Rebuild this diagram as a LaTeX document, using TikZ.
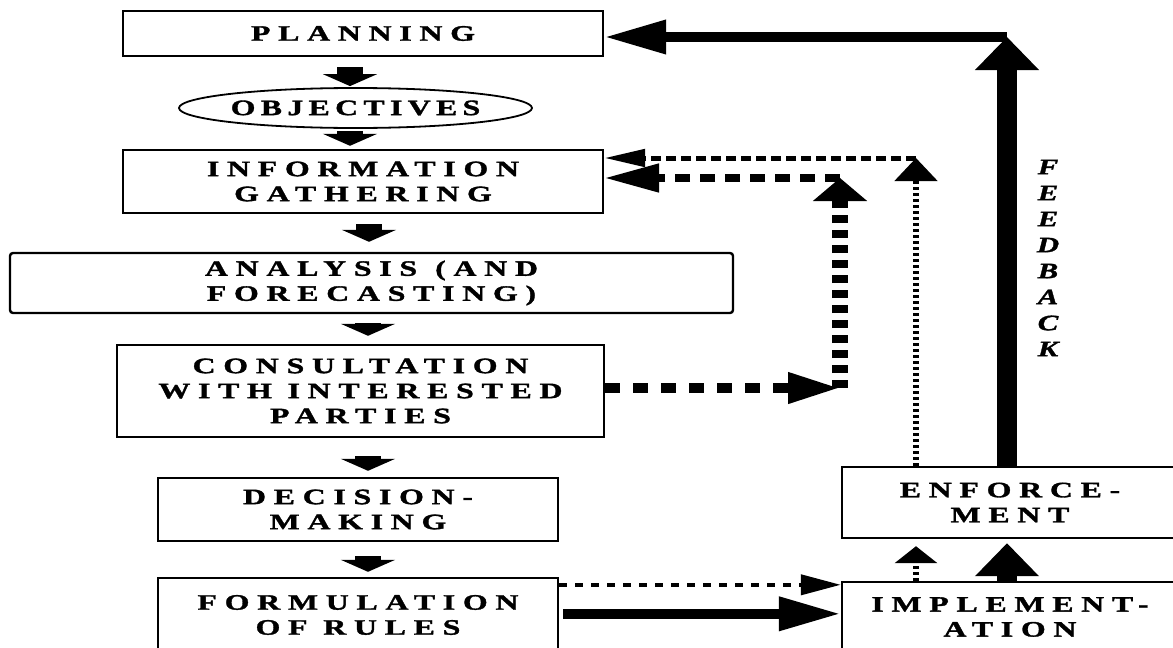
\documentclass[tikz,border=0pt]{standalone}
\usepackage{fontspec}
\setmainfont{Liberation Serif}
\newfontfamily\boxfont{Liberation Serif Bold}[FakeStretch=1.45,LetterSpace=35,FakeBold=1.5]
\newfontfamily\ovalfont{Liberation Serif Bold}[FakeStretch=1.45,LetterSpace=24,FakeBold=1.5]
\newfontfamily\fbfont{Liberation Serif Bold Italic}[FakeStretch=1.4,FakeBold=1.5]
\usetikzlibrary{shapes.geometric,arrows.meta}

\begin{document}
\begin{tikzpicture}[x=0.5pt,y=-0.5pt,
		stage/.style={draw,line width=1.2pt,align=center,inner sep=0pt,font=\boxfont\fontsize{11pt}{12.5pt}\selectfont},
		oval/.style={draw,ellipse,line width=0.9pt,inner sep=0pt,minimum width=162.5pt,minimum height=20pt,font=\ovalfont\fontsize{11pt}{12pt}\selectfont},
		downarrow/.style={line width=13pt,-{Triangle[length=6pt,width=27pt]}},
		bigup/.style={line width=10pt,-{Triangle[length=16.5pt,width=31pt]}},
		thickarrow/.style={line width=5pt,-{Triangle[length=31pt,width=16pt]}},
		dotup/.style={line width=2.6pt,dash pattern=on 1.5pt off 1.5pt,-{Triangle[length=11.5pt,width=21pt]}},
		dotshort/.style={line width=2.6pt,dash pattern=on 1.5pt off 1.5pt,-{Triangle[length=8.5pt,width=21pt]}},
		dotleft/.style={line width=2.5pt,dash pattern=on 5pt off 2.5pt,-{Triangle[length=20.5pt,width=8.5pt]}},
		dotright/.style={line width=2pt,dash pattern=on 4pt off 4pt,-{Triangle[length=20pt,width=10pt]}},
		dashright/.style={line width=5pt,dash pattern=on 7.5pt off 6.5pt,-{Triangle[length=26pt,width=14.5pt]}},
		dashup/.style={line width=8pt,dash pattern=on 4pt off 3.5pt,-{Triangle[length=11.5pt,width=26.5pt]}},
		dashleft/.style={line width=4pt,dash pattern=on 7.5pt off 5pt,-{Triangle[length=27.5pt,width=13.5pt]}}]
	\useasboundingbox (0,0) rectangle (1173,648);
	\node[stage,minimum width=240pt,minimum height=22.5pt] (plan) at (363,33.5) {PLANNING};
	\node[oval] (obj) at (355.5,108) {OBJECTIVES};
	\node[stage,minimum width=240pt,minimum height=31.5pt] (info) at (363,181.5) {INFORMATION\\GATHERING};
	\node[stage,rounded corners=1.5pt,minimum width=361.5pt,minimum height=30pt] (anal) at (371.5,283) {ANALYSIS\hspace{9pt}(AND\\FORECASTING)};
	\node[stage,minimum width=243.5pt,minimum height=46pt] (cons) at (360.5,391) {CONSULTATION\\WITH INTERESTED\\PARTIES};
	\node[stage,minimum width=200pt,minimum height=31.5pt] (dec) at (358,509.5) {DECISION-\\MAKING};
	\node[stage,minimum width=200pt,minimum height=37pt] (form) at (358,615) {FORMULATION\\OF RULES};
	\node[stage,minimum width=168pt,minimum height=35.5pt] (enf) at (1010,502.5) {ENFORCE-\\MENT};
	\node[stage,minimum width=168pt,minimum height=35pt] (impl) at (1010,617) {IMPLEMENT-\\ATION};
	\node[font=\fbfont\fontsize{11pt}{13pt}\selectfont,align=center] (fb) at (1048,258) {F\\E\\E\\D\\B\\A\\C\\K};
	\coordinate (fbtop) at (1007,37);
	\coordinate (dottop) at (916,158);
	\coordinate (dashtop) at (840,178);
	\coordinate (dashbot) at (840,388);

	\draw[downarrow,shorten <=5pt,shorten >=0.5pt] ([xshift=-6.5pt]plan.south) -- ([xshift=-6.5pt]plan.south |- obj.north);
	\draw[downarrow,shorten <=1pt,shorten >=1.5pt] ([xshift=-6.5pt]plan.south |- obj.south) -- ([xshift=-6.5pt]plan.south |- info.north);
	\draw[downarrow,shorten <=5pt,shorten >=5pt] ([xshift=3pt]info.south) -- ([xshift=3pt]info.south |- anal.north);
	\draw[downarrow,shorten <=4.5pt,shorten >=4pt] ([xshift=2.5pt]info.south |- anal.south) -- ([xshift=2.5pt]info.south |- cons.north);
	\draw[downarrow,shorten <=9pt,shorten >=3pt] ([xshift=2.5pt]info.south |- cons.south) -- ([xshift=2.5pt]info.south |- dec.north);
	\draw[downarrow,shorten <=7pt,shorten >=2.5pt] ([xshift=2.5pt]info.south |- dec.south) -- ([xshift=2.5pt]info.south |- form.north);

	\draw[bigup] ([xshift=-1.5pt]enf.north) -- (fbtop);
	\draw[thickarrow] (fbtop) -- (fbtop -| plan.east);
	\draw[dotup] ([xshift=-47pt]enf.north) -- (dottop);
	\draw[dotleft] (dottop) -- (dottop -| info.east);
	\draw[dashright] (cons.east |- dashbot) -- (dashbot);
	\draw[dashup] (dashbot) -- (dashtop);
	\draw[dashleft] (dashtop) -- (dashtop -| info.east);

	\draw[dotright] ([yshift=-4pt]form.north east) -- ([yshift=-4pt]form.north east -| impl.west);
	\draw[thickarrow,shorten <=2pt] ([yshift=-18.5pt]form.north east) -- ([yshift=-18.5pt]form.north east -| impl.west);
	\draw[dotshort,shorten >=3.5pt] ([xshift=-47pt]impl.north) -- ([xshift=-47pt]enf.south);
	\draw[bigup,shorten >=2pt] ([xshift=-1.5pt]impl.north) -- ([xshift=-1.5pt]enf.south);
\end{tikzpicture}
\end{document}
